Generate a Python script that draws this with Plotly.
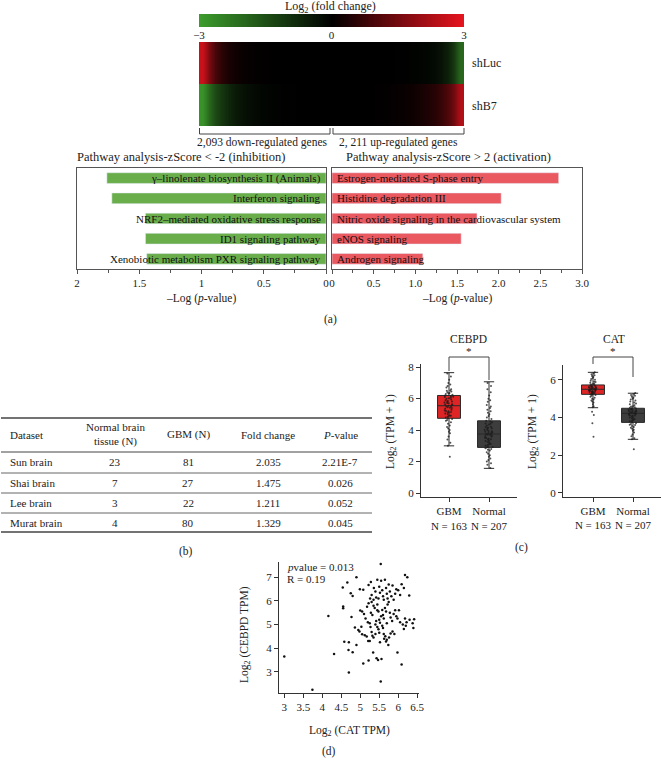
import plotly.graph_objects as go

W, H = 661, 760
def px(x): return x / W
def py(y): return 1 - y / H

FONT = "Liberation Serif, DejaVu Serif, serif"
TXT = "#222222"
AX = "#333333"

# ---------------- (a) heatmap data ----------------
shluc_fc = [2.6, 1.6, 0.9, 0.5, 0.3, 0.2, 0.12, 0.08, 0.05, 0.03, 0.02, 0.01, 0, 0, 0, 0, 0, 0, 0, 0,
            0, 0, 0, 0, 0, 0, 0, 0, 0, -0.01, -0.02, -0.03, -0.05, -0.08, -0.12, -0.2, -0.35, -0.6, -1.1, -2.0]
shb7_fc = [-2.8, -2.0, -1.4, -1.0, -0.7, -0.5, -0.35, -0.25, -0.18, -0.12, -0.08, -0.05, -0.03, -0.02, -0.01, 0, 0, 0, 0, 0,
           0, 0, 0, 0, 0, 0.01, 0.02, 0.03, 0.05, 0.07, 0.1, 0.14, 0.2, 0.28, 0.38, 0.5, 0.7, 1.0, 1.5, 2.3]
fc_scale = [-3, -2, -1, 0, 1, 2, 3]
fc_ticks = [-3, 0, 3]
fc_ticktext = ["\u22123", "0", "3"]
COLORSCALE = [[0, "#3c9c2c"], [0.5, "#000000"], [1, "#e8141e"]]

# ---------------- (a) pathway bars ----------------
inhib_pathways = ["\u03b3\u2013linolenate biosynthesis II (Animals)", "Interferon signaling",
                  "NRF2\u2013mediated oxidative stress response", "ID1 signaling pathway",
                  "Xenobiotic metabolism PXR signaling pathway"]
inhib_logp = [1.76, 1.72, 1.45, 1.45, 1.44]
act_pathways = ["Estrogen-mediated S-phase entry", "Histidine degradation III",
                "Nitric oxide signaling in the cardiovascular system", "eNOS signaling", "Androgen signaling"]
act_logp = [2.72, 2.03, 1.74, 1.55, 1.09]
inhib_ticks = [0, 0.5, 1, 1.5, 2]
inhib_ticktext = ["0", "0.5", "1", "1.5", "2"]
act_ticks = [0, 0.5, 1, 1.5, 2, 2.5, 3]
act_ticktext = ["0", "0.5", "1.0", "1.5", "2.0", "2.5", "3.0"]

# ---------------- (b) table ----------------
table_header = ["Dataset", "Normal brain<br>tissue (N)", "GBM (N)", "Fold change", "<i>P</i>-value"]
datasets = ["Sun brain", "Shai brain", "Lee brain", "Murat brain"]
normal_n = [23, 7, 3, 4]
gbm_n = [81, 27, 22, 80]
fold_change = ["2.035", "1.475", "1.211", "1.329"]
p_values = ["2.21E-7", "0.026", "0.052", "0.045"]

# ---------------- (c) box plots ----------------
groups = ["GBM", "Normal"]
group_labels = ["GBM<br>N = 163", "Normal<br>N = 207"]
cebpd_q1 = [4.75, 2.90]
cebpd_med = [5.55, 3.75]
cebpd_q3 = [6.20, 4.59]
cebpd_lo = [3.00, 1.57]
cebpd_hi = [7.65, 7.07]
cat_q1 = [5.23, 3.74]
cat_med = [5.50, 4.22]
cat_q3 = [5.73, 4.49]
cat_lo = [4.52, 2.84]
cat_hi = [6.40, 5.29]

cebpd_gbm_pts = [7.6, 7.4, 7.2, 7.0, 6.9, 6.8, 6.7, 6.6, 6.5, 6.45, 6.4, 6.35, 6.3, 6.25, 6.2, 6.15, 6.1, 6.05, 6.0,
                 5.95, 5.9, 5.85, 5.8, 5.75, 5.7, 5.65, 5.6, 5.55, 5.5, 5.45, 5.4, 5.35, 5.3, 5.25, 5.2, 5.15, 5.1,
                 5.05, 5.0, 4.95, 4.9, 4.85, 4.8, 4.75, 4.7, 4.6, 4.5, 4.4, 4.3, 4.2, 4.1, 4.0, 3.9, 3.8, 3.6, 3.4,
                 3.2, 3.0, 2.3, 6.02, 5.82, 5.62, 5.42, 5.22, 6.32, 6.52, 5.52, 5.72, 4.92, 5.12, 6.12, 4.65]
cebpd_nor_pts = [7.0, 6.8, 6.6, 6.4, 6.2, 6.0, 5.9, 5.8, 5.6, 5.5, 5.4, 5.3, 5.2, 5.1, 5.0, 4.9, 4.8, 4.7, 4.6, 4.55,
                 4.5, 4.4, 4.35, 4.3, 4.2, 4.15, 4.1, 4.0, 3.95, 3.9, 3.85, 3.8, 3.75, 3.7, 3.65, 3.6, 3.5, 3.45, 3.4,
                 3.3, 3.25, 3.2, 3.1, 3.05, 3.0, 2.95, 2.9, 2.85, 2.8, 2.7, 2.6, 2.5, 2.4, 2.3, 2.2, 2.1, 2.0, 1.9,
                 1.8, 1.6, 3.92, 3.62, 4.22, 4.42, 3.32, 2.92, 3.52, 4.02, 3.12, 3.72, 4.12, 2.75, 3.42, 3.82]
cat_gbm_pts = [6.4, 6.35, 6.3, 6.25, 6.2, 6.15, 6.1, 6.05, 6.0, 5.95, 5.9, 5.88, 5.85, 5.8, 5.78, 5.75, 5.72, 5.7,
               5.68, 5.65, 5.62, 5.6, 5.58, 5.56, 5.54, 5.52, 5.5, 5.48, 5.46, 5.44, 5.42, 5.4, 5.38, 5.36, 5.34,
               5.32, 5.3, 5.28, 5.26, 5.24, 5.22, 5.2, 5.15, 5.1, 5.05, 5.0, 4.95, 4.9, 4.85, 4.8, 4.7, 4.6, 4.55,
               4.31, 4.13, 3.69, 2.98, 5.51, 5.55, 5.61, 5.45, 5.35, 5.66, 5.41, 5.59]
cat_nor_pts = [5.3, 5.25, 5.2, 5.15, 5.1, 5.05, 5.0, 4.95, 4.9, 4.85, 4.8, 4.75, 4.7, 4.65, 4.6, 4.58, 4.55, 4.52,
               4.5, 4.48, 4.45, 4.42, 4.4, 4.38, 4.35, 4.32, 4.3, 4.28, 4.25, 4.22, 4.2, 4.18, 4.15, 4.12, 4.1,
               4.05, 4.0, 3.95, 3.9, 3.85, 3.8, 3.75, 3.7, 3.65, 3.6, 3.55, 3.5, 3.45, 3.4, 3.35, 3.3, 3.2, 3.1,
               3.0, 2.9, 2.85, 2.31, 4.31, 4.11, 3.91, 4.41, 4.21, 3.61, 4.01, 3.81]

# ---------------- (d) scatter ----------------
cat_tpm = [3.00, 3.74, 4.31, 4.70, 4.58, 4.70, 4.69, 4.80, 4.90, 4.86, 4.95, 4.98, 5.03, 5.05, 5.08, 5.17, 5.21, 5.25,
           5.22, 5.27, 5.30, 5.34, 5.35, 5.40, 5.43, 5.47, 5.45, 5.48, 5.50, 5.54, 5.56, 5.58, 5.60, 5.62, 5.63, 5.66,
           5.70, 5.74, 5.76, 5.80, 5.85, 5.98, 6.09, 6.12, 6.15, 6.20, 6.40, 6.38, 5.12, 5.32, 5.52, 5.68, 5.90,
           4.16, 4.55, 4.77, 5.00, 5.05, 5.14, 5.20, 5.25, 5.28, 5.32, 5.35, 5.38, 5.40, 5.42, 5.45, 5.48, 5.50,
           5.52, 5.55, 5.58, 5.60, 5.62, 5.65, 5.68, 5.70, 5.72, 5.75, 5.78, 5.80, 5.84, 5.88, 5.92, 5.95, 5.98,
           6.02, 6.05, 6.18, 6.22, 6.30, 6.42, 5.10, 5.18, 5.22, 5.30, 5.45,
           4.54, 4.55, 4.66, 4.75, 4.80, 4.90, 4.99, 5.08, 5.22, 5.26, 5.30, 5.35, 5.40, 5.42, 5.45, 5.50, 5.52,
           5.54, 5.55, 5.58, 5.60, 5.62, 5.65, 5.68, 5.70, 5.72, 5.75, 5.78, 5.82, 5.85, 5.88, 5.92, 5.95, 6.00,
           6.05, 6.09, 6.15, 6.18, 6.24, 6.29, 5.48, 5.36, 5.28]
cebpd_tpm = [3.64, 2.24, 3.75, 2.97, 4.27, 4.25, 3.92, 3.82, 4.13, 4.87, 4.77, 4.70, 4.91, 4.59, 3.35, 4.49, 4.30, 4.30,
             3.47, 4.90, 4.68, 3.81, 4.45, 4.60, 3.57, 3.50, 4.90, 4.80, 4.65, 2.58, 3.54, 4.95, 4.85, 4.60, 4.40, 4.50,
             4.35, 4.13, 4.45, 4.62, 4.70, 3.81, 3.31, 5.00, 4.81, 4.95, 4.85, 5.05, 4.55, 4.52, 4.25, 4.28, 4.60,
             5.36, 5.69, 5.32, 5.59, 5.55, 5.26, 5.10, 5.05, 5.50, 5.40, 5.80, 5.70, 5.00, 5.15, 5.60, 5.55, 5.20,
             5.08, 5.35, 5.62, 5.40, 5.25, 5.70, 5.55, 5.05, 5.85, 5.95, 5.50, 5.30, 5.15, 5.45, 5.60, 5.35, 5.25,
             5.60, 5.10, 5.25, 5.10, 5.20, 5.22, 5.45, 5.75, 5.90, 5.95, 5.85,
             6.57, 5.76, 6.78, 6.33, 6.21, 7.00, 6.50, 6.47, 6.68, 6.10, 6.25, 6.05, 6.40, 6.15, 6.90, 6.60, 6.35,
             7.57, 6.85, 6.45, 6.20, 6.05, 6.90, 6.55, 6.30, 6.10, 6.70, 6.40, 6.20, 6.65, 6.05, 6.30, 6.50, 6.45,
             6.25, 6.71, 6.55, 7.10, 7.00, 6.23, 6.10, 6.55, 6.80]
sc_xticks = [3, 3.5, 4, 4.5, 5, 5.5, 6, 6.5]
sc_xticktext = ["3", "3.5", "4", "4.5", "5", "5.5", "6", "6.5"]
sc_yticks = [3, 4, 5, 6, 7]

# ================= figure =================
fig = go.Figure()

# colour scale strip
fig.add_trace(go.Heatmap(z=[fc_scale, fc_scale], x=fc_scale, zmin=-3, zmax=3, zsmooth="best",
                         colorscale=COLORSCALE, showscale=False, xaxis="x7", yaxis="y7", hoverinfo="skip"))
# heatmap rows (one trace per row so smoothing stays horizontal)
fig.add_trace(go.Heatmap(z=[shluc_fc, shluc_fc], zmin=-3, zmax=3, zsmooth="best", colorscale=COLORSCALE,
                         showscale=False, xaxis="x", yaxis="y", hoverinfo="skip"))
fig.add_trace(go.Heatmap(z=[shb7_fc, shb7_fc], zmin=-3, zmax=3, zsmooth="best", colorscale=COLORSCALE,
                         showscale=False, xaxis="x", yaxis="y8", hoverinfo="skip"))

# bars
fig.add_trace(go.Bar(x=inhib_logp, y=inhib_pathways, orientation="h", marker_color="#6aae4c",
                     width=0.53, xaxis="x2", yaxis="y2", hoverinfo="skip"))
fig.add_trace(go.Bar(x=act_logp, y=act_pathways, orientation="h", marker_color="#ea5860",
                     width=0.53, xaxis="x3", yaxis="y3", hoverinfo="skip"))

# boxes
def add_boxes(q1, med, q3, lo, hi, pts_g, pts_n, xa, ya):
    for i, col in enumerate(["#de2424", "#3d3d3d"]):
        fig.add_trace(go.Box(x=[groups[i]], q1=[q1[i]], median=[med[i]], q3=[q3[i]],
                             lowerfence=[lo[i]], upperfence=[hi[i]], fillcolor=col,
                             line=dict(color="#2a2a2a", width=1), whiskerwidth=0.45,
                             boxpoints=False, xaxis=xa, yaxis=ya, hoverinfo="skip"))
    for i, pts in enumerate([pts_g, pts_n]):
        fig.add_trace(go.Box(x=[groups[i]] * len(pts), y=pts, boxpoints="all", jitter=0.42, pointpos=0,
                             fillcolor="rgba(0,0,0,0)", line=dict(width=0, color="rgba(0,0,0,0)"),
                             marker=dict(size=2, color="rgba(25,25,25,0.75)"),
                             xaxis=xa, yaxis=ya, hoverinfo="skip"))

add_boxes(cebpd_q1, cebpd_med, cebpd_q3, cebpd_lo, cebpd_hi, cebpd_gbm_pts, cebpd_nor_pts, "x4", "y4")
add_boxes(cat_q1, cat_med, cat_q3, cat_lo, cat_hi, cat_gbm_pts, cat_nor_pts, "x5", "y5")

# scatter
fig.add_trace(go.Scatter(x=cat_tpm, y=cebpd_tpm, mode="markers", marker=dict(size=2.5, color="#111111"),
                         xaxis="x6", yaxis="y6", hoverinfo="skip"))

tickfont = dict(family=FONT, size=11, color=TXT)
frame = dict(showline=True, linecolor="#555555", linewidth=1.3, mirror=True, showgrid=False, zeroline=False)
plain = dict(showline=True, linecolor=AX, linewidth=1, showgrid=False, zeroline=False,
             ticks="outside", ticklen=4, tickcolor=AX, tickfont=tickfont)
hidden = dict(visible=False)

fig.update_layout(
    width=W, height=H, autosize=False, margin=dict(l=0, r=0, t=0, b=0, autoexpand=False),
    paper_bgcolor="white", plot_bgcolor="white", showlegend=False,
    font=dict(family=FONT, size=11, color=TXT),
    boxgap=0.18, boxmode="overlay",
    xaxis7=dict(domain=[px(199), px(464)], anchor="y7", range=[-3, 3], tickvals=fc_ticks,
                ticktext=fc_ticktext, ticks="", showline=False, showgrid=False, zeroline=False,
                tickfont=tickfont, ticklabelstandoff=0),
    yaxis7=dict(domain=[py(27), py(14)], anchor="x7", **hidden),
    xaxis=dict(domain=[px(199), px(464)], anchor="y", **hidden),
    yaxis=dict(domain=[py(84), py(42)], anchor="x", **hidden),
    yaxis8=dict(domain=[py(126), py(84)], anchor="x", **hidden),
    xaxis2=dict(domain=[px(77), px(326)], anchor="y2", range=[2, 0], tickvals=inhib_ticks,
                ticktext=inhib_ticktext, ticks="outside", ticklen=4, tickcolor="#555555",
                minor=dict(dtick=0.25, ticks="outside", ticklen=3, tickcolor="#555555"),
                tickfont=tickfont, **frame),
    yaxis2=dict(domain=[py(269), py(168)], anchor="x2", autorange="reversed", showticklabels=False,
                ticks="", **frame),
    xaxis3=dict(domain=[px(332), px(582)], anchor="y3", range=[0, 3], tickvals=act_ticks,
                ticktext=act_ticktext, ticks="outside", ticklen=4, tickcolor="#555555",
                minor=dict(dtick=0.25, ticks="outside", ticklen=3, tickcolor="#555555"),
                tickfont=tickfont, **frame),
    yaxis3=dict(domain=[py(269), py(168)], anchor="x3", autorange="reversed", showticklabels=False,
                ticks="", **frame),
    xaxis4=dict(domain=[px(421), px(517)], anchor="y4", type="category", categoryorder="array",
                categoryarray=groups, range=[-0.7, 1.7], tickvals=groups, ticktext=group_labels, **plain),
    yaxis4=dict(domain=[py(497), py(364)], anchor="x4", range=[-0.25, 8.2], tickvals=[0, 2, 4, 6, 8], **plain),
    xaxis5=dict(domain=[px(563), px(661)], anchor="y5", type="category", categoryorder="array",
                categoryarray=groups, range=[-0.75, 1.7], tickvals=groups, ticktext=group_labels, **plain),
    yaxis5=dict(domain=[py(496.7), py(365)], anchor="x5", range=[-0.21, 6.79], tickvals=[0, 2, 4, 6], **plain),
    xaxis6=dict(domain=[px(279), px(418.7)], anchor="y6", range=[2.86, 6.54], tickvals=sc_xticks,
                ticktext=sc_xticktext, **plain),
    yaxis6=dict(domain=[py(692.7), py(562)], anchor="x6", range=[2.11, 7.65], tickvals=sc_yticks, **plain),
)

ann = []
def A(x, y, text, size=11, xanchor="center", yanchor="middle", angle=0, **kw):
    d = dict(x=px(x), y=py(y), xref="paper", yref="paper", text=text, showarrow=False,
             xanchor=xanchor, yanchor=yanchor, textangle=angle,
             font=dict(family=FONT, size=size, color=TXT))
    d.update(kw)
    ann.append(d)

# (a) texts
A(330, 7, "Log<sub>2</sub> (fold change)", size=12)
A(470, 63, "shLuc", size=12, xanchor="left")
A(470, 106, "shB7", size=12, xanchor="left")
A(262, 142, "2,093 down-regulated genes", size=11.5)
A(398, 142, "2, 211 up-regulated genes", size=11.5)
A(181, 157, "Pathway analysis-zScore < -2 (inhibition)", size=12.5)
A(448, 157, "Pathway analysis-zScore > 2 (activation)", size=12.5)
A(201, 298, "\u2013Log (<i>p</i>-value)", size=11.5)
A(457, 298, "\u2013Log (<i>p</i>-value)", size=11.5)
A(330, 319, "(a)", size=11.5)
for name in inhib_pathways:
    ann.append(dict(x=0, y=name, xref="x2", yref="y2", text=name, showarrow=False, xanchor="right",
                    xshift=-3, font=dict(family=FONT, size=11, color="#111111")))
for name in act_pathways:
    ann.append(dict(x=0, y=name, xref="x3", yref="y3", text=name, showarrow=False, xanchor="left",
                    xshift=3, font=dict(family=FONT, size=11, color="#111111")))

# (b) table
col_x = [8, 115, 188, 268, 340]
A(col_x[0], 435, table_header[0], xanchor="left")
for cx, h in zip(col_x[1:], table_header[1:]):
    A(cx, 435, h)
row_y = [462, 483, 503, 523]
for i, ry in enumerate(row_y):
    A(col_x[0], ry, datasets[i], xanchor="left")
    A(col_x[1], ry, str(normal_n[i]))
    A(col_x[2], ry, str(gbm_n[i]))
    A(col_x[3], ry, fold_change[i])
    A(col_x[4], ry, p_values[i])
A(186, 551, "(b)", size=11.5)

# (c)
A(468, 339, "CEBPD", size=11.5)
A(469, 351, "*", size=11)
A(614, 339, "CAT", size=11.5)
A(613, 351, "*", size=11)
A(391, 432, "Log<sub>2</sub> (TPM + 1)", size=11.5, angle=-90)
A(533, 432, "Log<sub>2</sub> (TPM + 1)", size=11.5, angle=-90)
A(521, 547, "(c)", size=11.5)

# (d)
A(285, 567, "<i>p</i>value = 0.013", xanchor="left", size=11)
A(285, 579, "R = 0.19", xanchor="left", size=11)
A(349, 731, "Log<sub>2</sub> (CAT TPM)", size=11.5)
A(245, 635, "Log<sub>2</sub> (CEBPD TPM)", size=11.5, angle=-90)
A(329, 751, "(d)", size=11.5)

fig.update_layout(annotations=ann)

shapes = []
def L(x0, y0, x1, y1, color="#444444", width=1.0, **kw):
    d = dict(type="line", x0=px(x0), y0=py(y0), x1=px(x1), y1=py(y1), xref="paper", yref="paper",
             line=dict(color=color, width=width))
    d.update(kw)
    shapes.append(d)

# brackets below heatmap
L(199.5, 128, 199.5, 134); L(199.5, 134, 330, 134); L(330, 134, 330, 128)
L(333, 128, 333, 134); L(333, 134, 464, 134); L(464, 134, 464, 128)

# table rules
L(1, 418, 372, 418, width=1.4)
L(1, 452, 372, 452, width=1.0)
for yy in [473, 493, 513]:
    L(1, yy, 372, yy, color="#555555", width=0.9)
L(1, 532, 372, 532, width=1.4)

# significance brackets
def bracket(xa, y_left, y_right):
    shapes.append(dict(type="line", xref=xa, yref="paper", x0=0, x1=0, y0=py(y_left), y1=py(357),
                       line=dict(color="#444444", width=1)))
    shapes.append(dict(type="line", xref=xa, yref="paper", x0=0, x1=1, y0=py(357), y1=py(357),
                       line=dict(color="#444444", width=1)))
    shapes.append(dict(type="line", xref=xa, yref="paper", x0=1, x1=1, y0=py(357), y1=py(y_right),
                       line=dict(color="#444444", width=1)))
bracket("x4", 371, 380)
bracket("x5", 364, 377)

fig.update_layout(shapes=shapes)
# the page's default 8px body margin would shift the whole figure; remove it
fig.write_html("out.html", config={"displayModeBar": False},
               post_script="document.body.style.margin='0';document.body.style.overflow='hidden';")
